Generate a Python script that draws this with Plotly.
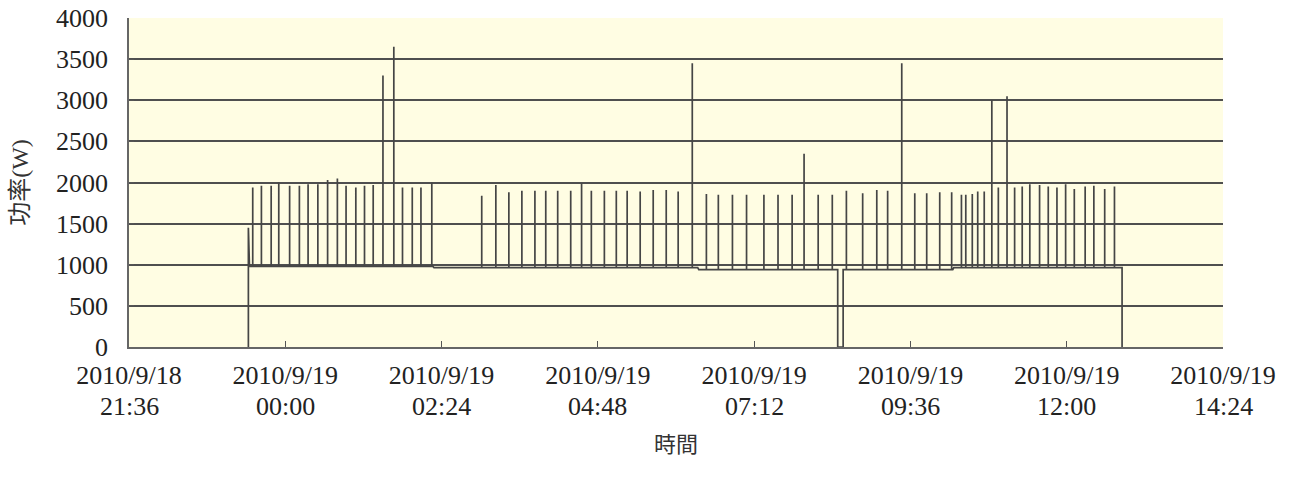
import plotly.graph_objects as go
import pandas as pd

# ---- data ----
# outline of the power trace (samples that are not spikes)
outline_time = ["2010-09-18 23:26", "2010-09-18 23:26", "2010-09-18 23:27", "2010-09-19 02:16",
                "2010-09-19 02:17", "2010-09-19 06:20", "2010-09-19 06:21", "2010-09-19 08:29",
                "2010-09-19 08:29", "2010-09-19 08:34", "2010-09-19 08:34", "2010-09-19 10:15",
                "2010-09-19 10:16", "2010-09-19 12:51", "2010-09-19 12:51"]
outline_power = [0, 1450, 980, 980, 965, 965, 940, 940, 0, 0, 940, 940, 965, 965, 0]

# short spikes (one sample each)
spike_time = ["2010-09-18 23:30", "2010-09-18 23:38", "2010-09-18 23:47", "2010-09-18 23:54",
              "2010-09-19 00:04", "2010-09-19 00:13", "2010-09-19 00:21", "2010-09-19 00:30",
              "2010-09-19 00:39", "2010-09-19 00:48", "2010-09-19 00:56", "2010-09-19 01:05",
              "2010-09-19 01:13", "2010-09-19 01:21", "2010-09-19 01:30", "2010-09-19 01:40",
              "2010-09-19 01:48", "2010-09-19 01:57", "2010-09-19 02:05", "2010-09-19 02:15",
              "2010-09-19 03:01", "2010-09-19 03:14", "2010-09-19 03:26", "2010-09-19 03:38",
              "2010-09-19 03:50", "2010-09-19 04:00", "2010-09-19 04:11", "2010-09-19 04:23",
              "2010-09-19 04:33", "2010-09-19 04:42", "2010-09-19 04:54", "2010-09-19 05:05",
              "2010-09-19 05:15", "2010-09-19 05:27", "2010-09-19 05:39", "2010-09-19 05:51",
              "2010-09-19 06:02", "2010-09-19 06:15", "2010-09-19 06:28", "2010-09-19 06:39",
              "2010-09-19 06:52", "2010-09-19 07:05", "2010-09-19 07:21", "2010-09-19 07:34",
              "2010-09-19 07:47", "2010-09-19 07:58", "2010-09-19 08:11", "2010-09-19 08:24",
              "2010-09-19 08:37", "2010-09-19 08:52", "2010-09-19 09:05", "2010-09-19 09:15",
              "2010-09-19 09:28", "2010-09-19 09:40", "2010-09-19 09:51", "2010-09-19 10:03",
              "2010-09-19 10:14", "2010-09-19 10:23", "2010-09-19 10:27", "2010-09-19 10:33",
              "2010-09-19 10:38", "2010-09-19 10:44", "2010-09-19 10:51", "2010-09-19 10:57",
              "2010-09-19 11:05", "2010-09-19 11:12", "2010-09-19 11:19", "2010-09-19 11:26",
              "2010-09-19 11:35", "2010-09-19 11:43", "2010-09-19 11:51", "2010-09-19 11:59",
              "2010-09-19 12:07", "2010-09-19 12:17", "2010-09-19 12:25", "2010-09-19 12:35",
              "2010-09-19 12:44"]
spike_power = [1940, 1960, 1960, 2000,
               1960, 1960, 1980, 1980,
               2030, 2050, 1960, 1940,
               1960, 1970, 3300, 3650,
               1940, 1940, 1940, 2000,
               1840, 1970, 1880, 1900,
               1900, 1900, 1900, 1900,
               1990, 1900, 1900, 1900,
               1900, 1890, 1910, 1910,
               1890, 3450, 1860, 1850,
               1850, 1850, 1850, 1850,
               1850, 2350, 1850, 1850,
               1900, 1870, 1910, 1900,
               3450, 1870, 1870, 1880,
               1880, 1850, 1850, 1860,
               1890, 1890, 3000, 1940,
               3050, 1940, 1950, 1980,
               1970, 1950, 1940, 1980,
               1920, 1950, 1960, 1920,
               1950]

tick_values = ["2010-09-18 21:36", "2010-09-19 00:00", "2010-09-19 02:24", "2010-09-19 04:48",
               "2010-09-19 07:12", "2010-09-19 09:36", "2010-09-19 12:00", "2010-09-19 14:24"]
tick_dates = ["2010/9/18", "2010/9/19", "2010/9/19", "2010/9/19",
              "2010/9/19", "2010/9/19", "2010/9/19", "2010/9/19"]
tick_clock = ["21:36", "00:00", "02:24", "04:48", "07:12", "09:36", "12:00", "14:24"]

y_ticks = [0, 500, 1000, 1500, 2000, 2500, 3000, 3500, 4000]

# ---- build the trace ----
out_df = pd.DataFrame({"t": pd.to_datetime(outline_time), "w": outline_power})
rows = [(t, w, i * 3) for i, (t, w) in enumerate(zip(out_df["t"], out_df["w"]))]
for st, sp in zip(pd.to_datetime(spike_time), spike_power):
    prev = out_df[out_df["t"] <= st]
    base = prev["w"].iloc[-1]
    rows += [(st, base, 0), (st, sp, 1), (st, base, 2)]
df = pd.DataFrame(rows, columns=["t", "w", "o"]).sort_values(["t", "o"], kind="stable")
df = df.reset_index(drop=True)

serif = "Liberation Serif, Times New Roman, Noto Sans CJK TC, serif"

fig = go.Figure()
fig.add_trace(go.Scatter(x=df["t"], y=df["w"], mode="lines",
                         line=dict(color="#454545", width=1.7), showlegend=False,
                         hoverinfo="skip"))

for tv, tc in zip(tick_values, tick_clock):
    fig.add_annotation(x=tv, xref="x", y=0, yref="paper", yanchor="middle",
                       yshift=-59, text=tc, showarrow=False,
                       font=dict(family=serif, size=26, color="#222222"))

fig.update_layout(
    width=1292, height=486,
    margin=dict(l=129, r=69, t=18, b=139, autoexpand=False),
    paper_bgcolor="white", plot_bgcolor="#FFFDE3",
    xaxis=dict(type="date", range=[tick_values[0], tick_values[-1]],
               tickvals=tick_values, ticktext=tick_dates, automargin=False,
               ticks="inside", ticklen=6, tickcolor="#555555", tickwidth=1,
               showgrid=False, showline=True, linecolor="#666666", linewidth=1.5,
               ticklabelstandoff=4, ticklabeloverflow="allow",
               tickfont=dict(family=serif, size=26, color="#222222"),
               title=dict(text="時間", standoff=48,
                          font=dict(family="Noto Sans CJK TC, sans-serif", size=22, color="#333333"))),
    yaxis=dict(range=[0, 4000], tickvals=y_ticks, ticks="inside", ticklen=5, automargin=False,
               tickcolor="#555555", showgrid=True, gridcolor="#4f4f4f", gridwidth=1.6,
               showline=True, linecolor="#666666", linewidth=1.5, zeroline=False,
               ticklabelstandoff=14, ticklabeloverflow="allow",
               tickfont=dict(family=serif, size=26, color="#222222"),
               title=dict(text="功率(W)", standoff=21,
                          font=dict(family=serif, size=24, color="#333333"))),
)

fig.write_html("out.html", config={"displayModeBar": False},
               post_script="document.body.style.margin='0';document.body.style.overflow='hidden';")
